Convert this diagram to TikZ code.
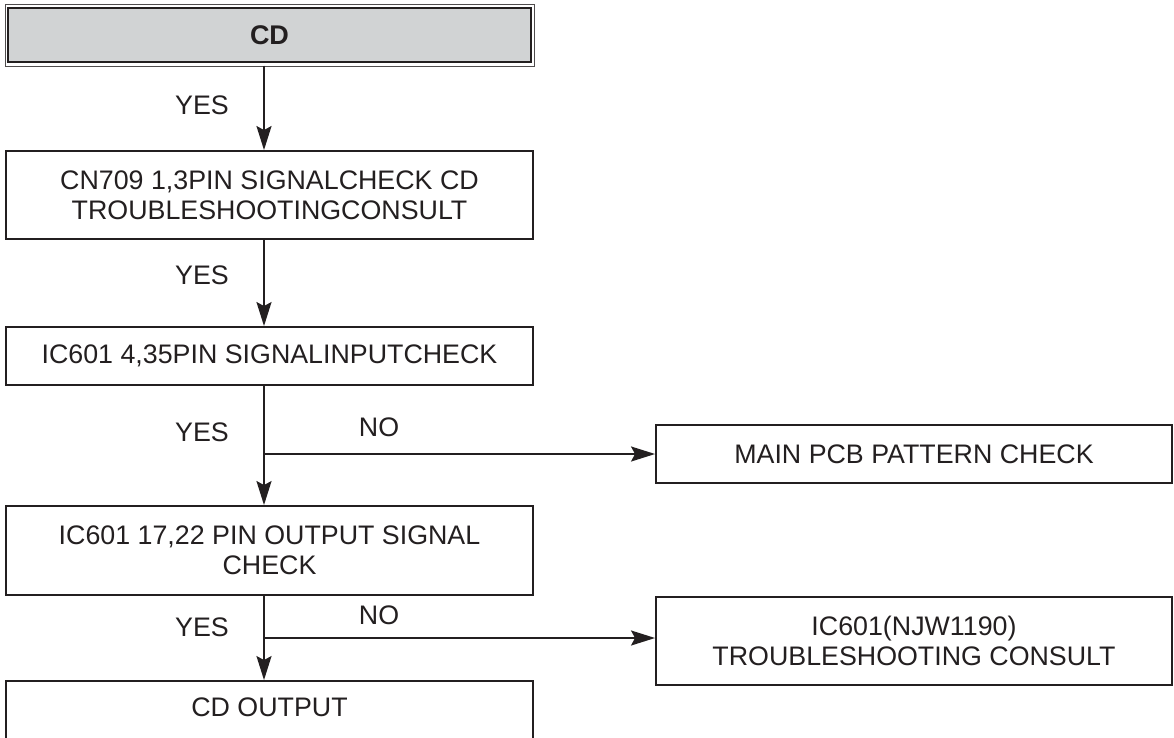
\documentclass[tikz,border=0pt]{standalone}
\usepackage{fontspec}
\setmainfont{Liberation Sans}
\usetikzlibrary{arrows.meta}
\definecolor{ink}{HTML}{231F20}
\definecolor{hdr}{HTML}{D1D3D4}
\begin{document}
\begin{tikzpicture}[x=1pt,y=-1pt,
  box/.style={draw=ink, line width=1.9pt, align=center, inner sep=0pt, text=ink,
              font=\fontsize{26.8}{30}\selectfont},
  lbl/.style={text=ink, inner sep=0pt, font=\fontsize{26.8}{30}\selectfont},
  arr/.style={draw=ink, line width=1.9pt, -{Stealth[length=24pt,width=15pt,inset=4pt]}}]
\useasboundingbox (0,0) rectangle (1174,737);
\fill[white] (0,0) rectangle (1174,737);

% header box (double border)
\node[draw=ink!80, line width=1pt, minimum width=529pt, minimum height=62pt, inner sep=0pt] (b1o) at (269.5,35) {};
\node[box, fill=hdr, line width=2.4pt, minimum width=523pt, minimum height=54pt,
      font=\bfseries\fontsize{27}{30}\selectfont] (b1) at (269.5,35) {CD};

% main column boxes
\node[box, minimum width=527pt, minimum height=88pt] (b2) at (269.5,195)
  {CN709 1,3PIN SIGNALCHECK CD\\TROUBLESHOOTINGCONSULT};
\node[box, minimum width=527pt, minimum height=58pt] (b3) at (269.5,356)
  {IC601 4,35PIN SIGNALINPUTCHECK};
\node[box, minimum width=527pt, minimum height=89pt] (b4) at (269.5,550.5)
  {IC601 17,22 PIN OUTPUT SIGNAL\\CHECK};
\node[box, minimum width=527pt, minimum height=64pt] (b5) at (269.5,713)
  {\raisebox{6pt}[\height][\depth]{CD OUTPUT}};

% right boxes
\node[box, minimum width=516pt, minimum height=58pt] (r1) at (914,454)
  {MAIN PCB PATTERN CHECK};
\node[box, minimum width=516pt, minimum height=88pt] (r2) at (914,641)
  {IC601(NJW1190)\\TROUBLESHOOTING CONSULT};

% spine and junctions
\coordinate (sp) at (264,0);
\coordinate (j1) at (264,454);
\coordinate (j2) at (264,638);

% connectors
\draw[arr] ([yshift=1pt]b1o.south -| sp) -- (b2.north -| sp);
\draw[arr] (b2.south -| sp) -- (b3.north -| sp);
\draw[arr] (b3.south -| sp) -- (b4.north -| sp);
\draw[arr] (b4.south -| sp) -- (b5.north -| sp);
\draw[arr] (j1) -- (j1 -| r1.west);
\draw[arr] (j2) -- (j2 -| r2.west);

% labels
\node[lbl] (y1) at (202,105) {YES};
\node[lbl] (y2) at (202,275) {YES};
\node[lbl] (y3) at (202,432) {YES};
\node[lbl] (y4) at (202,627) {YES};
\node[lbl] (n1) at (379,427) {NO};
\node[lbl] (n2) at (379,615) {NO};
\end{tikzpicture}
\end{document}
